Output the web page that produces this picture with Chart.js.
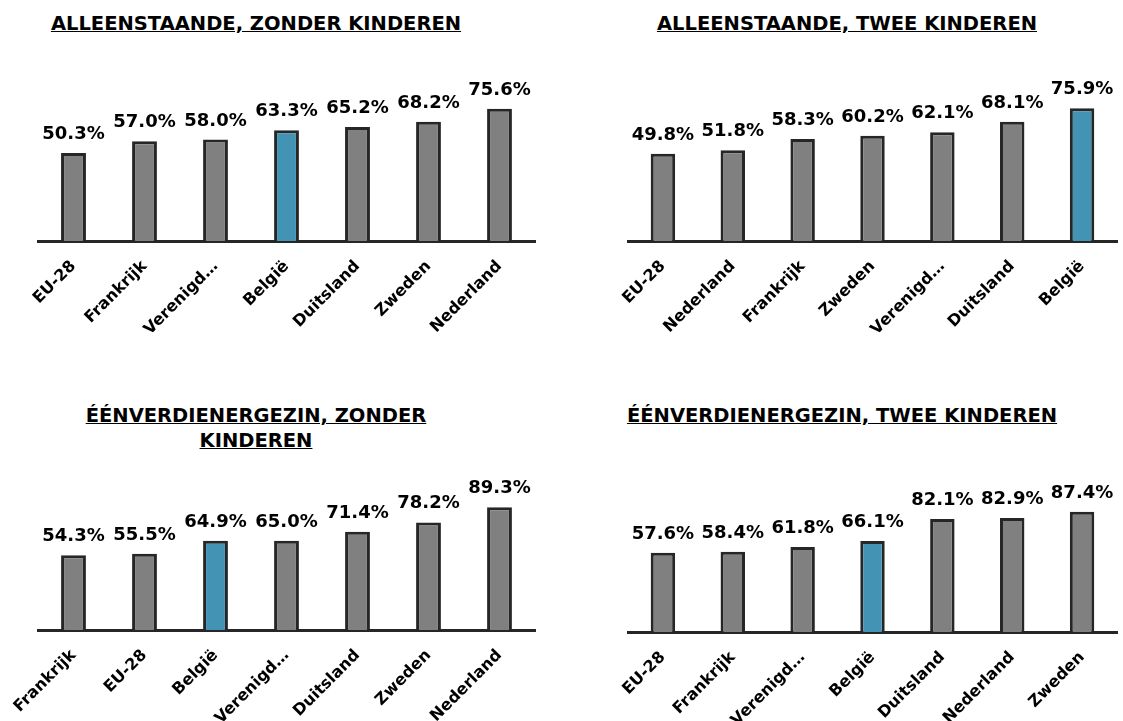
<!doctype html>
<html lang="nl">

<head>
    <meta charset="utf-8" />
    <title>Vervangingsratio's</title>
    <script src="https://cdn.jsdelivr.net/npm/chart.js@4"></script>
    <style>
        html, body {
            margin: 0;
            padding: 0;
            width: 1123px;
            height: 721px;
            overflow: hidden;
            background: #fff;
            font-family: "DejaVu Sans", Verdana, sans-serif;
        }

        .title {
            position: absolute;
            font-size: 19.5px;
            font-weight: bold;
            line-height: 25px;
            text-align: center;
            text-decoration: underline;
            color: #000;
        }

        .nowrap {
            white-space: nowrap;
        }

        canvas {
            position: absolute;
        }
    </style>
</head>

<body>
    <div class="title nowrap" style="left:36px; top:11px; width:440px;">ALLEENSTAANDE, ZONDER KINDEREN</div>
    <div class="title nowrap" style="left:627px; top:11px; width:440px;">ALLEENSTAANDE, TWEE KINDEREN</div>
    <div class="title" style="left:51px; top:403px; width:410px;">ÉÉNVERDIENERGEZIN, ZONDER KINDEREN</div>
    <div class="title nowrap" style="left:617px; top:403px; width:450px;">ÉÉNVERDIENERGEZIN, TWEE KINDEREN</div>

    <canvas id="chart1" width="561" height="320" style="left:0; top:40px;"></canvas>
    <canvas id="chart2" width="600" height="320" style="left:562px; top:40px;"></canvas>
    <canvas id="chart3" width="561" height="300" style="left:0; top:455px;"></canvas>
    <canvas id="chart4" width="600" height="300" style="left:562px; top:455px;"></canvas>

    <script>
        // alleenstaande, zonder kinderen
        const cat1 = ['EU-28', 'Frankrijk', 'Verenigd…', 'België', 'Duitsland', 'Zweden', 'Nederland'];
        const val1 = [50.3, 57.0, 58.0, 63.3, 65.2, 68.2, 75.6];

        // alleenstaande, twee kinderen
        const cat2 = ['EU-28', 'Nederland', 'Frankrijk', 'Zweden', 'Verenigd…', 'Duitsland', 'België'];
        const val2 = [49.8, 51.8, 58.3, 60.2, 62.1, 68.1, 75.9];

        // eenverdienergezin, zonder kinderen
        const cat3 = ['Frankrijk', 'EU-28', 'België', 'Verenigd…', 'Duitsland', 'Zweden', 'Nederland'];
        const val3 = [54.3, 55.5, 64.9, 65.0, 71.4, 78.2, 89.3];

        // eenverdienergezin, twee kinderen
        const cat4 = ['EU-28', 'Frankrijk', 'Verenigd…', 'België', 'Duitsland', 'Nederland', 'Zweden'];
        const val4 = [57.6, 58.4, 61.8, 66.1, 82.1, 82.9, 87.4];

        const GREY = '#808080';
        const BLUE = '#4393b5';
        const EDGE = '#262626';
        const FONT = 'DejaVu Sans';

        // draw the percentage above every bar
        const valueLabels = {
            id: 'valueLabels',
            afterDatasetsDraw(chart) {
                const ctx = chart.ctx;
                const values = chart.data.datasets[0].data;
                ctx.save();
                ctx.font = `bold 18px "${FONT}"`;
                ctx.fillStyle = '#000';
                ctx.textAlign = 'center';
                ctx.textBaseline = 'alphabetic';
                chart.getDatasetMeta(0).data.forEach((bar, i) => {
                    ctx.fillText(values[i].toFixed(1) + '%', bar.x, bar.y - 14);
                });
                ctx.restore();
            }
        };

        function makeChart(id, labels, values, padding, axisHeight) {
            return new Chart(document.getElementById(id), {
                type: 'bar',
                data: {
                    labels: labels,
                    datasets: [{
                        data: values,
                        backgroundColor: labels.map(l => l === 'België' ? BLUE : GREY),
                        borderColor: EDGE,
                        borderWidth: 3,
                        categoryPercentage: 1.0,
                        barPercentage: 0.35,
                    }]
                },
                options: {
                    responsive: false,
                    animation: false,
                    layout: { padding: padding },
                    plugins: {
                        legend: { display: false },
                        tooltip: { enabled: false },
                    },
                    scales: {
                        x: {
                            grid: { display: false },
                            border: { display: true, color: EDGE, width: 3 },
                            ticks: {
                                autoSkip: false,
                                minRotation: 45,
                                maxRotation: 45,
                                padding: 8,
                                color: '#000',
                                font: { family: FONT, size: 16, weight: 'bold' },
                            },
                            afterFit: scale => { scale.height = axisHeight; },
                        },
                        y: {
                            display: false,
                            min: 0,
                            max: 100,
                        }
                    }
                },
                plugins: [valueLabels]
            });
        }

        makeChart('chart1', cat1, val1, { left: 38, right: 26, top: 26, bottom: 0 }, 119);
        makeChart('chart2', cat2, val2, { left: 66, right: 45, top: 26, bottom: 0 }, 119);
        makeChart('chart3', cat3, val3, { left: 38, right: 26, top: 37.5, bottom: 0 }, 125);
        makeChart('chart4', cat4, val4, { left: 66, right: 45, top: 39.5, bottom: 0 }, 123);
    </script>
</body>

</html>
